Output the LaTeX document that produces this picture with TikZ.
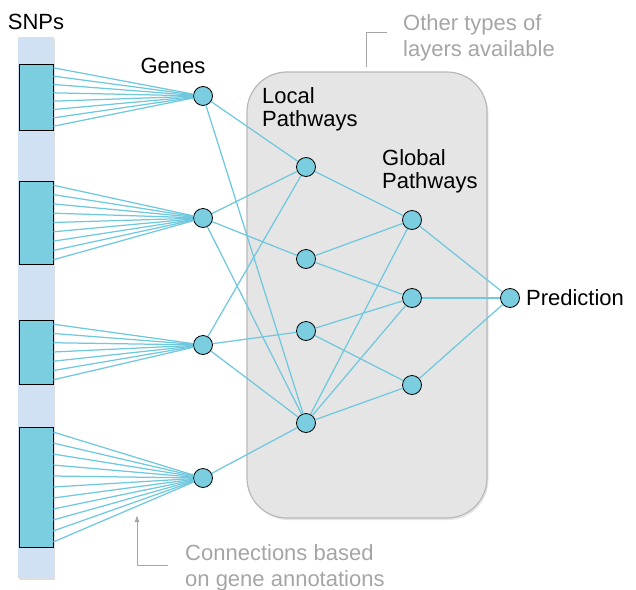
\documentclass[tikz,border=0pt]{standalone}
\usepackage{fontspec}
\setmainfont{Liberation Sans}
\usepackage{tikz}
\usetikzlibrary{positioning,calc,shadows,arrows.meta}

\definecolor{nodecyan}{RGB}{122,206,224}
\definecolor{linkcyan}{RGB}{112,200,222}
\definecolor{bandblue}{RGB}{207,225,242}
\definecolor{boxgray}{RGB}{229,229,229}
\definecolor{boxline}{RGB}{185,185,185}
\definecolor{notegray}{RGB}{165,165,165}

\begin{document}
\begin{tikzpicture}[
			x=1pt, y=-1pt,
			unitnode/.style={circle, draw=black, fill=nodecyan, thick, minimum size=19pt, inner sep=0pt},
			snpnode/.style={rectangle, draw=black, fill=nodecyan, thick, minimum width=34pt, inner sep=0pt},
			link/.style={draw=linkcyan, line width=1.25pt},
			layerlabel/.style={font=\fontsize{22}{23.5}\selectfont, align=left, inner sep=0pt},
			notelabel/.style={font=\fontsize{22}{26.5}\selectfont, text=notegray, align=left, inner sep=0pt},
			callout/.style={draw=notegray, line width=1pt},
			]
			\useasboundingbox (0,0) rectangle (636,589);

			%Layers
			\fill[bandblue, drop shadow={shadow xshift=1pt, shadow yshift=-1.5pt, opacity=0.25}] (18,37) rectangle (54,578);
			\draw[boxline, fill=boxgray, line width=1.2pt, rounded corners=40pt,
				drop shadow={shadow xshift=1.5pt, shadow yshift=-2pt, opacity=0.2}] (247,72) rectangle (487,518);

			%Nodes
			\node[snpnode, minimum height=66pt]  (snp1) at (36,97)    {};
			\node[snpnode, minimum height=83pt]  (snp2) at (36,222.5) {};
			\node[snpnode, minimum height=64pt]  (snp3) at (36,352)   {};
			\node[snpnode, minimum height=120pt] (snp4) at (36,487)   {};

			\node[unitnode] (gene1) at (203,96)  {};
			\node[unitnode] (gene2) at (203,218) {};
			\node[unitnode] (gene3) at (203,345) {};
			\node[unitnode] (gene4) at (203,478) {};

			\node[unitnode] (local1) at (306,167) {};
			\node[unitnode] (local2) at (306,259) {};
			\node[unitnode] (local3) at (306,331) {};
			\node[unitnode] (local4) at (306,423) {};

			\node[unitnode] (global1) at (412,220) {};
			\node[unitnode] (global2) at (412,298) {};
			\node[unitnode] (global3) at (412,385) {};

			\node[unitnode] (pred) at (510,298) {};

			%Labels
			\node[layerlabel] (snplabel)    at (36,22)                   {SNPs};
			\node[layerlabel] (genelabel)   at (173,66)                  {Genes};
			\node[layerlabel, anchor=north west] (locallabel)  at (262,87)  {Local\\Pathways};
			\node[layerlabel, anchor=north west] (globallabel) at (382,149) {Global\\Pathways};
			\node[layerlabel, right=6pt of pred] (predlabel)             {Prediction};

			\node[notelabel, anchor=north west] (othernote) at (403,14)  {Other types of\\layers available};
			\node[notelabel, anchor=north west] (connnote)  at (185,544) {Connections based\\on gene annotations};

			%Connections
			\foreach \s/\g/\n in {snp1/gene1/8, snp2/gene2/9, snp3/gene3/7, snp4/gene4/11}
				\foreach \k in {1,...,\n}
					\draw[link] ($(\s.north east)!{(\k-0.5)/\n}!(\s.south east)$) -- (\g);

			\foreach \a/\b in {gene1/local1, gene1/local4, gene2/local1, gene2/local2, gene2/local4,
					gene3/local1, gene3/local3, gene3/local4, gene4/local4,
					local1/global1, local2/global1, local2/global2, local3/global2, local3/global3,
					local4/global1, local4/global2, local4/global3,
					global1/pred, global2/pred, global3/pred}
				\draw[link] (\a) -- (\b);

			%Callouts
			\coordinate (othertop)  at (366,32);
			\coordinate (otherend)  at (387,32);
			\coordinate (otherfoot) at (366,67);
			\draw[callout] (otherfoot) -- (othertop) -- (otherend);

			\coordinate (connend)    at (168,565);
			\coordinate (conncorner) at (137,565);
			\coordinate (conntip)    at (137,515);
			\draw[callout, -{Latex[length=7pt, width=5pt]}] (connend) -- (conncorner) -- (conntip);
		\end{tikzpicture}
\end{document}
